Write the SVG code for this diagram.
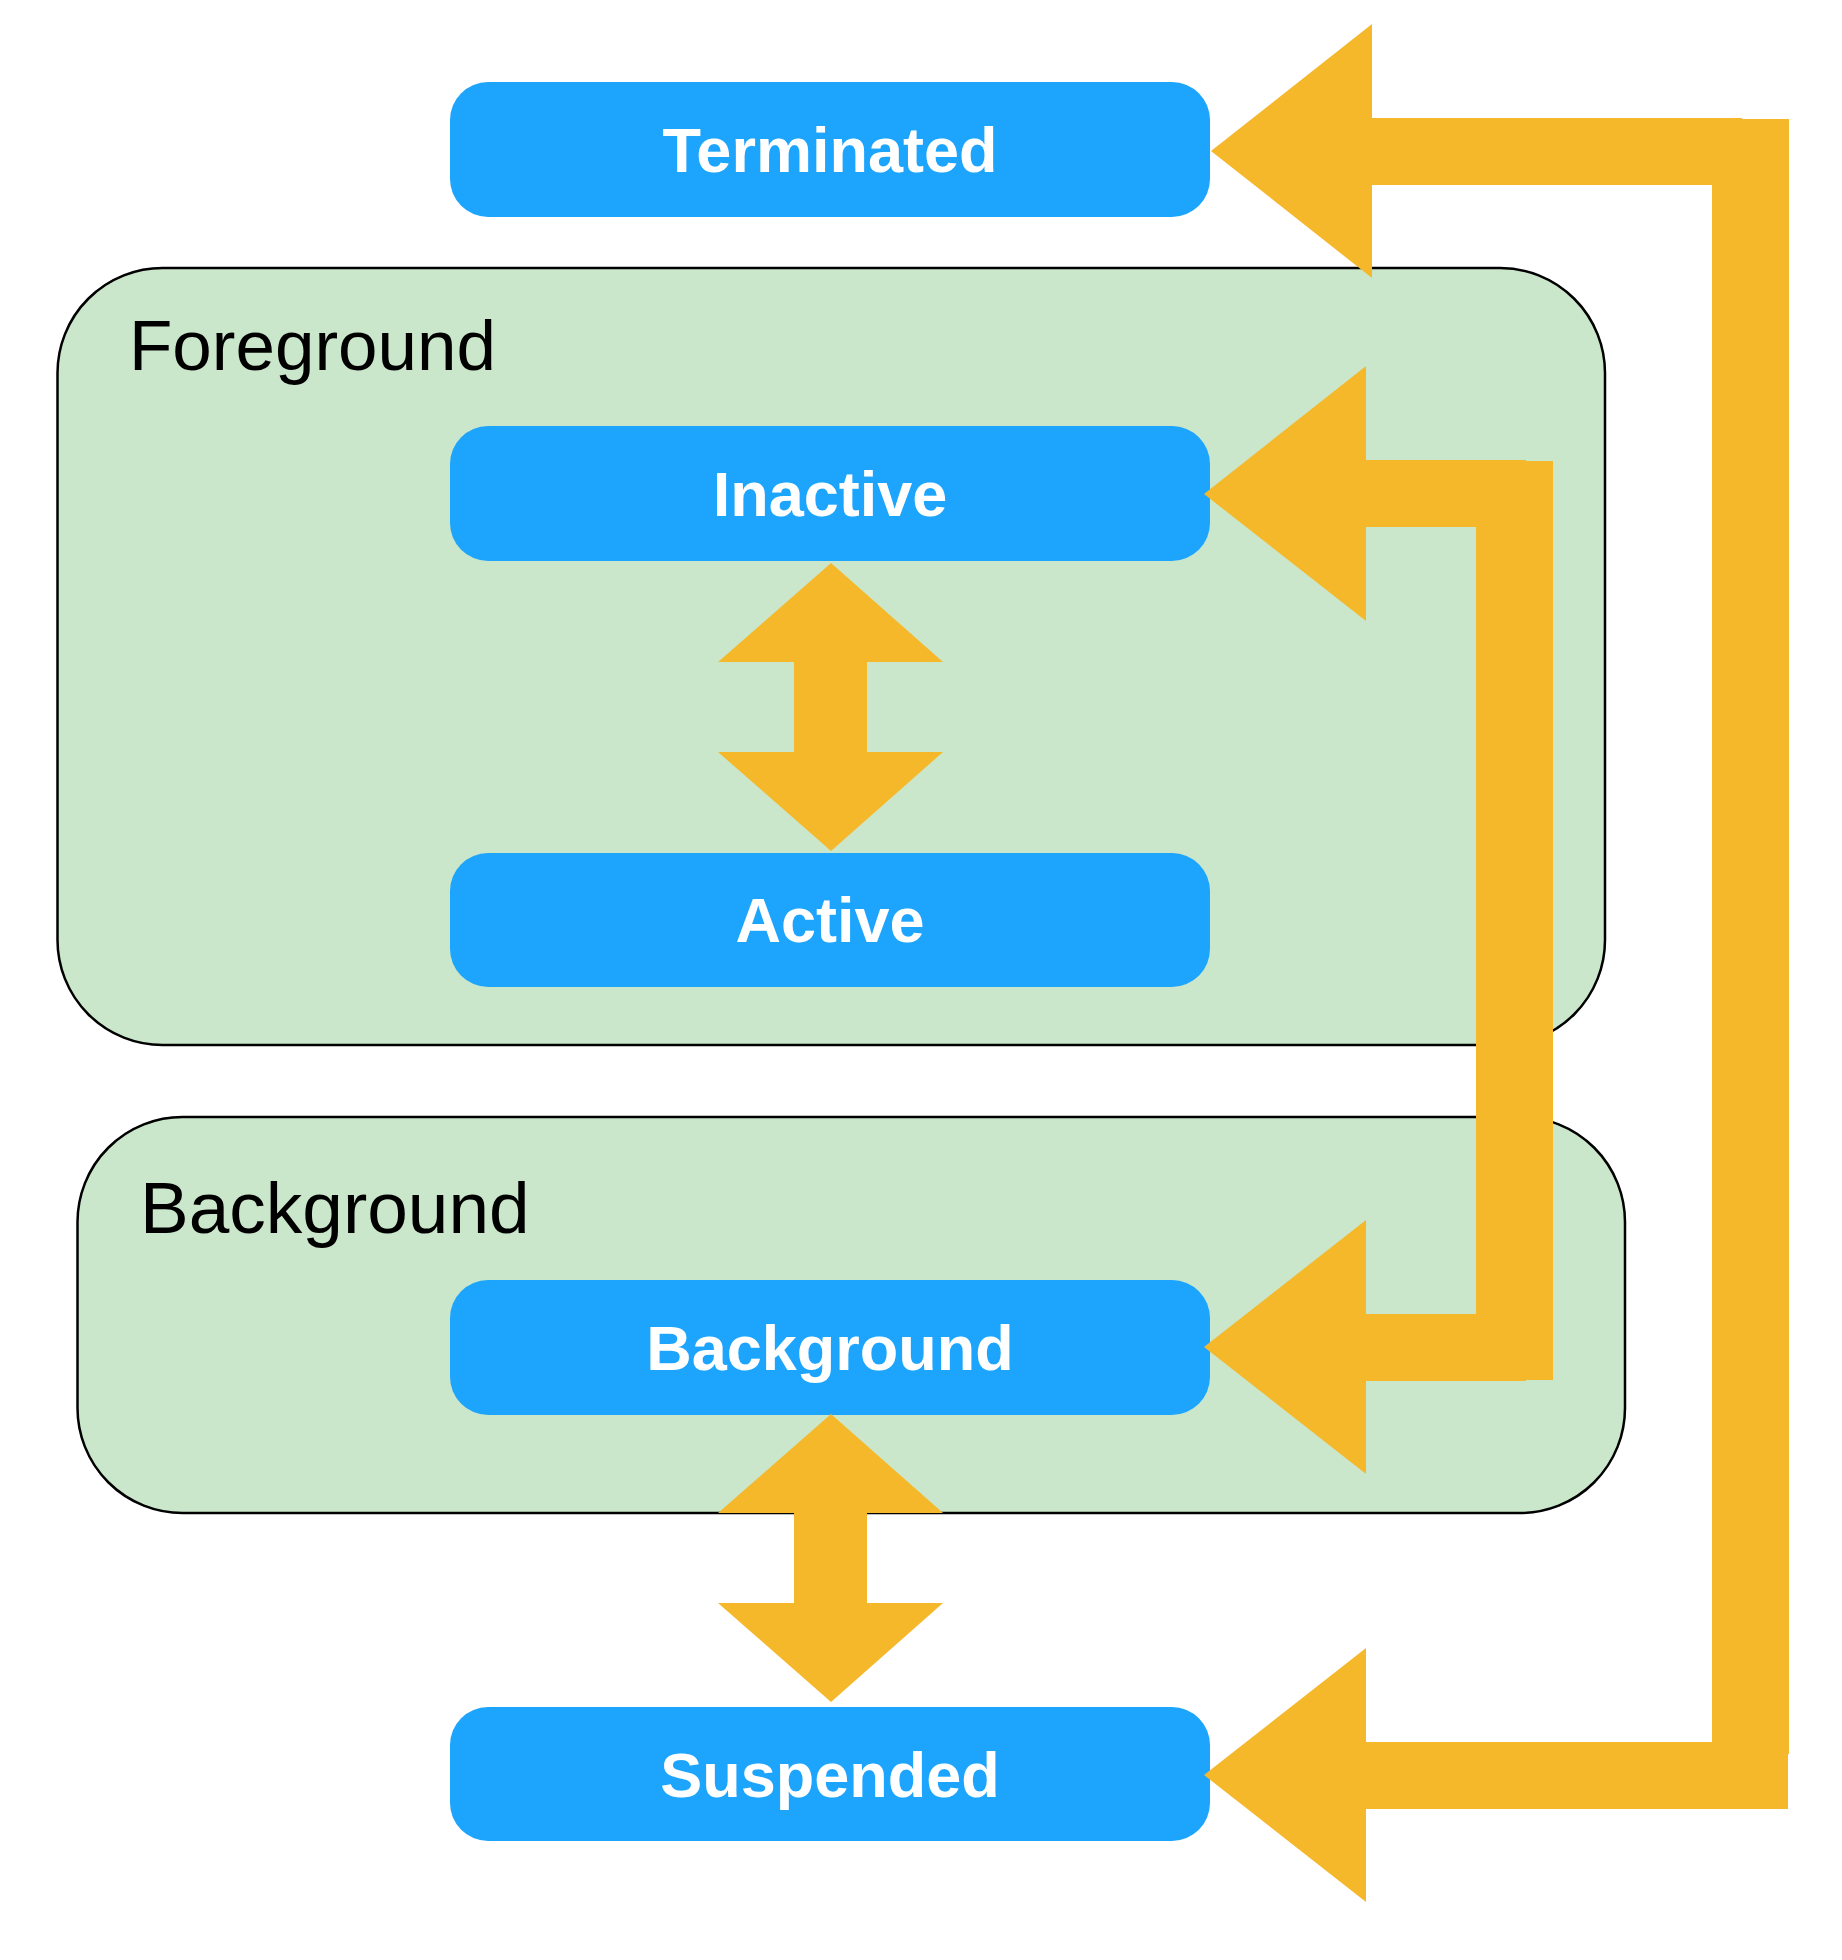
<svg xmlns="http://www.w3.org/2000/svg" width="1842" height="1960" viewBox="0 0 1842 1960">
  <style>
    .group { fill: #CBE7CB; stroke: #000000; stroke-width: 2.5; }
    .glabel { font-family: "Liberation Sans", Arial, sans-serif; font-size: 71px; fill: #000000; }
    .node { fill: #1DA5FD; }
    .nlabel { font-family: "Liberation Sans", Arial, sans-serif; font-size: 63px; font-weight: bold; fill: #FFFFFF; text-anchor: middle; }
    .conn { fill: #F5B82B; }
  </style>
  <rect width="1842" height="1960" fill="#FFFFFF"/>

  <g id="group-foreground">
    <rect class="group" x="57.5" y="268" width="1547.5" height="777" rx="105" ry="105"/>
    <text class="glabel" x="129" y="370">Foreground</text>
  </g>
  <g id="group-background">
    <rect class="group" x="77.5" y="1117" width="1547.5" height="396" rx="105" ry="105"/>
    <text class="glabel" x="140" y="1233" style="font-size:73px">Background</text>
  </g>

  <g id="node-terminated">
    <rect class="node" x="450" y="82" width="760" height="135" rx="38" ry="38"/>
    <text class="nlabel" x="830" y="172">Terminated</text>
  </g>
  <g id="node-inactive">
    <rect class="node" x="450" y="426" width="760" height="135" rx="38" ry="38"/>
    <text class="nlabel" x="830" y="516">Inactive</text>
  </g>
  <g id="node-active">
    <rect class="node" x="450" y="853" width="760" height="134" rx="38" ry="38"/>
    <text class="nlabel" x="830" y="942">Active</text>
  </g>
  <g id="node-background">
    <rect class="node" x="450" y="1280" width="760" height="135" rx="38" ry="38"/>
    <text class="nlabel" x="830" y="1370">Background</text>
  </g>
  <g id="node-suspended">
    <rect class="node" x="450" y="1707" width="760" height="134" rx="38" ry="38"/>
    <text class="nlabel" x="830" y="1797">Suspended</text>
  </g>

  <g id="connectors">
    <!-- Inactive <-> Active -->
    <polygon class="conn" points="831,563 943,662 867,662 867,752 943,752 831,851 718,752 794,752 794,662 718,662"/>
    <!-- Background <-> Suspended -->
    <polygon class="conn" points="831,1414 943,1513 867,1513 867,1603 943,1603 831,1702 718,1603 794,1603 794,1513 718,1513"/>
    <!-- Inactive <-> Background (right route) -->
    <g id="conn-inactive-background">
      <polygon class="conn" points="1204,494 1366,366 1366,621"/>
      <rect class="conn" x="1365" y="460" width="161" height="67"/>
      <rect class="conn" x="1476" y="461" width="77" height="919"/>
      <rect class="conn" x="1365" y="1314" width="161" height="67"/>
      <polygon class="conn" points="1204,1347 1366,1220 1366,1474"/>
    </g>
    <!-- Terminated <-> Suspended (outer route) -->
    <g id="conn-terminated-suspended">
      <polygon class="conn" points="1211,151 1372,24 1372,278"/>
      <rect class="conn" x="1371" y="118" width="371" height="67"/>
      <rect class="conn" x="1712" y="119" width="77" height="1635"/>
      <rect class="conn" x="1365" y="1742" width="423" height="67"/>
      <polygon class="conn" points="1204,1775 1366,1648 1366,1902"/>
    </g>
  </g>
</svg>
